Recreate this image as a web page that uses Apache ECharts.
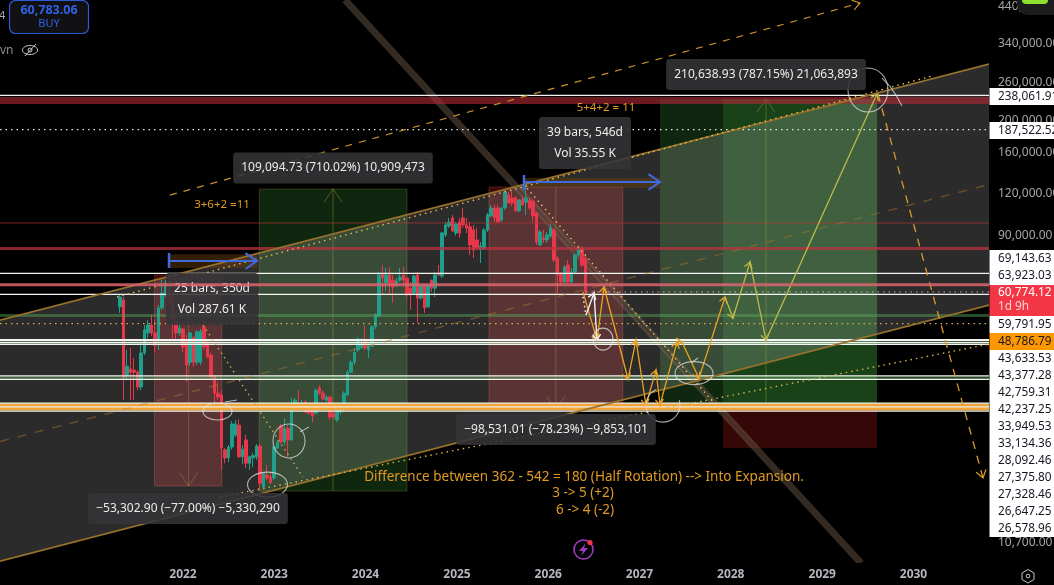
<!DOCTYPE html>
<html><head><meta charset="utf-8">
<style>html,body{margin:0;padding:0;background:#000;overflow:hidden}#c{width:1054px;height:585px}</style>
<script src="https://cdn.jsdelivr.net/npm/echarts@6/dist/echarts.min.js"></script>
</head><body><div id="c"></div>
<script>
// ---------- values (prices in thousands, time in days from 1 Jan 2022) ----------
const yearTicks = [2022,2023,2024,2025,2026,2027,2028,2029,2030];
const priceTicks = [440000,340000,260000,200000,160000,120000,90000,10700];
const firstBarDay = -252, barDays = 14;
const opens = [54.8,57.5,34.1,35.6,35.3,34.8,31.4,39.8,45.7,48.3,45.7,43.5,54.4,59.5,63.8,57.5,49.3,45.7,47.0,43.5,37.3,44.4,37.3,37.3,47.7,42.6,39.2,33.9,30.1,29.7,20.3,19.2,20.7,22.5,24.1,19.35,21.75,18.5,19.2,19.35,20.85,15.7,17.05,16.8,16.7,20.55,24.0,21.45,23.6,21.75,27.7,28.1,27.1,28.3,27.1,26.9,26.2,31.2,30.1,28.7,29.3,26.2,25.0,26.4,26.8,29.7,34.8,37.3,40.6,41.2,43.5,40.6,41.7,47.7,51.4,68.8,64.7,68.4,66.0,63.8,66.0,68.4,66.9,62.4,60.3,68.4,58.3,63.8,54.8,66.0,62.4,69.3,67.9,90.3,96.1,101.6,91.5,98.8,101.6,96.8,95.5,93.5,87.2,81.9,82.5,93.5,103.0,108.9,108.9,100.2,108.9,119.1,116.7,116.7,106.7,115.9,113.5,115.1,114.3,105.2,84.2,88.4,87.2,89.7,93.5,76.9,68.8,65.1,73.3,65.1,69.8,78.6,82.5,76.9];
const closes = [58.7,33.6,36.3,34.8,34.8,31.4,39.8,46.7,48.3,45.7,42.0,54.4,60.3,63.8,56.7,50.0,45.7,47.3,41.5,36.6,45.7,37.3,46.0,46.3,41.5,38.7,33.6,30.1,29.3,20.55,19.2,20.7,24.3,24.3,19.35,20.4,18.5,19.35,19.5,20.85,16.1,17.3,16.7,16.2,20.7,21.45,21.45,23.6,21.75,28.1,28.7,27.1,28.1,26.4,26.2,25.7,30.7,30.1,28.9,29.3,25.5,25.5,27.1,27.7,30.1,34.8,37.3,40.0,43.8,42.0,41.2,41.7,47.7,51.8,68.4,66.9,68.4,64.7,62.9,65.6,67.4,66.0,59.5,59.5,67.9,58.3,63.8,54.4,63.8,62.4,68.4,68.4,91.5,96.8,98.8,92.8,97.5,91.5,96.8,94.8,84.2,81.3,82.5,83.6,93.5,103.8,108.9,101.6,98.8,108.9,121.7,112.7,112.7,106.7,115.1,111.2,116.7,108.9,103.0,86.0,92.2,87.2,90.3,94.8,75.9,68.4,65.1,72.3,65.1,69.8,78.6,82.5,73.3,60.8];
const highs = [59.5,58.7,40.6,41.2,38.4,35.3,42.6,48.3,50.0,51.8,50.0,55.5,66.0,66.0,68.4,61.6,51.8,49.3,47.3,45.1,46.0,44.4,46.7,47.0,48.0,43.5,39.8,34.1,32.5,30.7,20.55,21.0,24.8,25.0,25.1,21.0,22.5,19.5,19.9,21.15,21.15,17.4,18.25,17.4,21.0,21.75,24.3,25.3,24.1,29.1,29.1,30.7,28.7,28.7,28.1,27.7,31.2,31.8,30.7,29.7,29.5,26.8,27.5,28.1,30.5,35.3,37.9,41.2,44.4,44.1,48.3,42.0,48.3,52.5,69.8,73.3,71.8,72.3,68.4,66.9,71.8,72.3,67.4,65.1,68.4,69.8,63.8,64.2,64.2,66.0,69.8,73.3,92.2,98.8,101.6,103.8,98.8,101.6,108.9,101.6,98.8,96.8,94.8,86.0,94.8,105.2,111.2,111.2,111.2,109.7,123.4,121.7,123.4,118.3,115.9,118.3,127.7,116.7,115.9,105.9,93.5,93.5,92.2,97.5,94.8,78.0,69.8,73.3,75.9,71.8,79.1,83.0,83.6,78.0];
const lows = [52.5,28.7,33.0,28.7,28.7,30.7,30.7,39.2,44.1,44.8,39.8,40.6,53.6,58.7,54.4,44.1,43.5,44.8,40.0,32.5,36.3,36.1,36.6,36.6,40.6,38.4,33.4,28.1,28.7,17.65,18.5,18.65,20.3,22.2,19.2,18.4,17.9,17.65,18.0,18.9,15.35,15.5,16.45,16.0,16.45,20.4,21.15,21.0,19.35,21.6,27.3,26.8,26.8,26.2,25.9,24.6,26.0,29.7,28.7,28.3,25.0,25.0,24.6,26.0,26.4,29.5,34.6,36.6,40.0,40.9,40.6,38.4,41.5,47.0,51.1,59.5,61.2,59.5,56.3,62.9,65.1,63.8,58.7,53.6,59.5,49.0,57.5,52.5,54.4,60.8,58.7,67.9,66.9,89.0,94.8,92.2,89.7,88.4,94.8,91.5,78.6,76.9,81.3,74.3,81.3,92.2,102.3,98.8,98.1,98.8,107.4,111.9,110.4,105.9,105.9,110.4,103.8,107.4,98.8,84.2,83.6,85.4,85.4,88.4,74.8,60.3,63.8,64.2,64.7,64.7,68.8,77.5,72.3,59.5];

const channelTop = [[-732,50.0],[3224,295.9]];
const channelBottom = [[-732,9.38],[3224,55.5]];
const channelMid = [[-732,21.5],[3224,128.2]];
const dottedUpper = [[-264,58.7],[2996,272.2]];
const dottedLower = [[148,14.63],[3224,42.3]];
const dottedFall1 = [[80,48.3],[480,16.8]];
const dottedFall2 = [[1376,124.9],[2148,26.8]];
const dashedRise = [[-52,119.1],[2708,452]];
const dashedDrop = [[2780,240.2],[3200,16.7]];
const heavyDiagonal = [[648,461.5],[2712,9.25]];

const rectRed1 = [[-114,68.4],[155,15.8]];
const rectRed2 = [[1224,125.9],[1759,26.8]];
const rectGreen1 = [[305,124.2],[896,15.25]];
const rectGreen2 = [[1908,232],[2776,26.8]];
const rectGreen3 = [[2160,232],[2776,26.8]];
const rectRed3 = [[2160,26.8],[2776,20.55]];
const arrowRed1 = [[22,68.4],[22,15.8]];
const arrowRed2 = [[1491,125.9],[1491,26.8]];
const arrowGreen1 = [[600,15.25],[600,124.2]];
const arrowGreen2 = [[2332,26.8],[2332,232]];

const spanBand1 = [[-56,79.0],[296,71.8]];
const spanBand2 = [[1364,134],[1908,125]];
const spanLine1 = [[-56,75.3],[296,75.3]];
const spanLine2 = [[1364,130.4],[1908,130.4]];
const spanTick1 = [[-56,79.7],[-56,71.8]];
const spanTick2 = [[1364,136.9],[1364,123.4]];

const whitePriceLines = [69143.63,59791.95,43633.53,43377.28,42759.31,42237.25,33949.53,33134.36,238061.91,28092.46,27351,26578.96];
const dottedPriceWhite = [187522.52];
const dottedPriceYellow = [48786.79];
const redThinLines = [98100];
const redThickLines = [82200];
const redWideLines = [229600];
const pinkLines = [63923.03];
const greenBands = [51600,42600,33500];
const orangeBands = [27700,27000];
const lastPriceLine = [[1612,60.774],[3224,60.774]];

const zigOrange = [[1600,60.8],[1656,43.5],[1684,62.9],[1780,33.2],[1812,43.5],[1852,27.7],[1892,35.3],[1908,27.7],[1976,42.9],[1996,42.9],[2064,33.4],[2168,58.7]];
const zigOlive = [[2168,58.7],[2200,50.7],[2268,74.8],[2332,43.5],[2776,240.2]];
const whiteDots = [[1600,58.7],[1612,51.8]];
const whiteZig = [[1612,51.8],[1644,60.3],[1656,43.5]];

const sketchCentres = [[138,26.5],[338,15.95],[424,21.6],[1680,43.8],[2044,34.6],[2740,247]];
const sketchArcCentre = [[1920,27.7]];
const sketchTail1 = [[168,28.3],[216,28.7]];
const sketchTail3 = [[468,23.0],[504,23.8]];
const sketchTail6 = [[2036,37.3],[2060,38.4]];
const sketchTail7 = [[2796,268.4],[2828,253.4],[2852,238.5],[2876,221]];

const boxTexts = ['109,094.73 (710.02%) 10,909,473','39 bars, 546d\nVol 35.55 K','25 bars, 350d\nVol 287.61 K','−53,302.90 (−77.00%) −5,330,290','−98,531.01 (−78.23%) −9,853,101','210,638.93 (787.15%) 21,063,893'];
const boxAnchors = [[600,143.7],[1608,171],[116,57.9],[20,13.5],[1492,23.4],[2332,275.1]];
const noteTexts = ['3+6+2 =11','5+4+2 = 11','Difference between 362 - 542 = 180 (Half Rotation) --> Into Expansion.','3 -> 5 (+2)','6 -> 4 (-2)'];
const noteAnchors = [[156,111.2],[1692,218],[1604,16.8],[1600,15.0],[1608,13.37]];

const stackLabels = ['238,061.91','187,522.52','69,143.63','63,923.03','60,774.12','59,791.95','48,786.79','43,633.53','43,377.28','42,759.31','42,237.25','33,949.53','33,134.36','28,092.46','27,375.80','27,328.46','26,647.25','26,578.96'];

// ---------- helpers ----------
const D0 = new Date(2022,0,1).getTime(), DAY = 864e5;
const xy = p => [p[0], p[1]*1000];
const FONT = '"Noto Sans", sans-serif';
const candles = opens.map((o,i)=>[firstBarDay+i*barDays, o*1000, closes[i]*1000, lows[i]*1000, highs[i]*1000]);

function shape(pts, z, build){
  return {type:'custom',coordinateSystem:'cartesian2d',z,silent:true,clip:true,animation:false,
    data:pts.map(xy),encode:{x:0,y:1},
    renderItem:(params,api)=>{
      if(params.dataIndex!==0) return null;
      return build(pts.map(p=>api.coord(xy(p))));
    }};
}
const box = (pts,z,fill,stroke)=>shape(pts,z,c=>({type:'rect',shape:{x:Math.min(c[0][0],c[1][0]),y:Math.min(c[0][1],c[1][1]),width:Math.abs(c[1][0]-c[0][0]),height:Math.abs(c[1][1]-c[0][1])},style:{fill,stroke:stroke||null,lineWidth:1}}));
const poly = (pts,z,fill)=>shape(pts,z,c=>({type:'polygon',shape:{points:c},style:{fill}}));
function head(a,b,len,spread){
  const ang=Math.atan2(b[1]-a[1],b[0]-a[0]);
  return [[b[0]-len*Math.cos(ang-spread),b[1]-len*Math.sin(ang-spread)],b,[b[0]-len*Math.cos(ang+spread),b[1]-len*Math.sin(ang+spread)]];
}
function line(pts,z,stroke,lineWidth,dash,headLen,eachHead){
  return shape(pts,z,c=>{
    const kids=[{type:'polyline',shape:{points:c},style:{fill:null,stroke,lineWidth,lineDash:dash||null}}];
    if(headLen){
      const from=eachHead?1:c.length-1;
      for(let i=from;i<c.length;i++) kids.push({type:'polyline',shape:{points:head(c[i-1],c[i],headLen,0.6)},style:{fill:null,stroke,lineWidth}});
    }
    return {type:'group',children:kids};
  });
}
const hLine=(v,z,stroke,w,dash)=>line([[-732,v/1000],[3224,v/1000]],z,stroke,w,dash);

const series=[];
// measurement zones under everything
series.push(box(rectRed1,1,'rgba(190,40,40,.30)','rgba(190,70,60,.35)'));
series.push(box(rectRed2,1,'rgba(190,40,40,.30)','rgba(190,70,60,.35)'));
series.push(box(rectGreen1,1,'rgba(50,130,50,.30)','rgba(130,130,40,.35)'));
series.push(box(rectGreen2,1,'rgba(50,130,50,.30)'));
series.push(box(rectGreen3,1,'rgba(50,130,50,.30)'));
series.push(box(rectRed3,1,'rgba(190,30,30,.28)'));
// channel
series.push(poly([channelTop[0],channelTop[1],channelBottom[1],channelBottom[0]],2,'rgba(255,255,255,.17)'));
series.push(line(arrowRed1,2,'rgba(190,150,90,.30)',1.2,null,16));
series.push(line(arrowRed2,2,'rgba(190,150,90,.30)',1.2,null,16));
series.push(line(arrowGreen1,2,'rgba(190,170,70,.30)',1.2,null,16));
series.push(line(arrowGreen2,2,'rgba(190,170,70,.30)',1.2,null,16));
series.push(box(spanBand1,2,'rgba(110,65,10,.45)'));
series.push(box(spanBand2,2,'rgba(110,65,10,.45)'));
series.push(line(heavyDiagonal,2,'rgba(125,105,85,.42)',7));
series.push(line(heavyDiagonal,2,'rgba(50,38,25,.40)',1.6));
// candles
series.push({type:'candlestick',z:3,silent:true,animation:false,barWidth:2.6,data:candles,encode:{x:0,y:[1,2,3,4]},
  itemStyle:{color:'#1f9e8a',color0:'#e8364a',borderColor:'#1f9e8a',borderColor0:'#e8364a',borderWidth:1}});
// price levels
redThinLines.forEach(v=>series.push(hLine(v,4,'rgba(200,50,55,.6)',1)));
redThickLines.forEach(v=>series.push(hLine(v,4,'rgba(190,50,65,.72)',3)));
redWideLines.forEach(v=>series.push(hLine(v,4,'rgba(175,40,55,.62)',7)));
greenBands.forEach(v=>series.push(hLine(v,4,'rgba(90,170,90,.45)',3)));
orangeBands.forEach(v=>series.push(hLine(v,4,'#f2a534',3.5)));
whitePriceLines.forEach(v=>series.push(hLine(v,4,'#f4f4f0',1.3)));
dottedPriceWhite.forEach(v=>series.push(hLine(v,4,'#e8e8e8',1.2,[1.5,4])));
dottedPriceYellow.forEach(v=>series.push(hLine(v,4,'#d9b04c',1.2,[1.5,4])));
series.push(line(lastPriceLine,4,'rgba(240,200,200,.8)',1,[1.5,4]));
// channel borders and trend lines
series.push(line(channelTop,5,'#96702c',1.7));
series.push(line(channelBottom,5,'#96702c',1.7));
series.push(line(channelMid,5,'rgba(170,120,50,.45)',1.5,[9,9]));
series.push(line(dottedUpper,5,'#e2bd55',1.4,[1.5,4]));
series.push(line(dottedLower,5,'#d6b64e',1.4,[1.5,4]));
series.push(line(dottedFall1,5,'#c9a94e',1.4,[1.5,4]));
series.push(line(dottedFall2,5,'#e6c35c',1.4,[1.5,4]));
series.push(line(dashedRise,5,'#c98f2a',1.2,[7,7],9));
series.push(line(dashedDrop,5,'#d99a2a',1.3,[8,7],9));
series.push(line(spanLine1,6,'#3f6ae0',2,null,14));
series.push(line(spanLine2,6,'#3f6ae0',2,null,14));
series.push(line(spanTick1,6,'#3f6ae0',2.5));
series.push(line(spanTick2,6,'#3f6ae0',2.5));
series.push(line(zigOrange,6,'#e8a224',1.3,null,7,true));
series.push(line(zigOlive,6,'#bdb84a',1.3,null,7,true));
series.push(line(whiteDots,6,'#f0f0f0',1.5,[1.5,3]));
series.push(line(whiteZig,6,'#f0f0f0',1.4,null,7,true));
// sketched circles
const sketchRadii=[[14.5,8.5],[20,12.5],[16,17],[10,11],[19,11.5],[20,22]];
const sketchColour='rgba(228,228,228,.72)';
sketchCentres.forEach((c,i)=>series.push(shape([c],6,p=>({type:'ellipse',shape:{cx:p[0][0],cy:p[0][1],rx:sketchRadii[i][0],ry:sketchRadii[i][1]},style:{fill:null,stroke:sketchColour,lineWidth:1.1}}))));
series.push(shape(sketchArcCentre,6,p=>({type:'arc',shape:{cx:p[0][0],cy:p[0][1],r:17,startAngle:-0.3,endAngle:4.3,clockwise:true},style:{fill:null,stroke:sketchColour,lineWidth:1.1}})));
[sketchTail1,sketchTail3,sketchTail6,sketchTail7].forEach(t=>series.push(line(t,6,sketchColour,1.1)));
// text boxes
boxTexts.forEach((t,i)=>series.push(shape([boxAnchors[i]],7,p=>({type:'text',style:{text:t,x:p[0][0],y:p[0][1],align:'center',verticalAlign:'middle',fill:'#ececec',font:'12px '+FONT,lineHeight:21,backgroundColor:'rgba(52,52,56,.88)',padding:[5,8],borderRadius:3}}))));
const noteFontSizes=[11.5,11.5,13.5,13.5,13.5];
noteTexts.forEach((t,i)=>series.push(shape([noteAnchors[i]],7,p=>({type:'text',style:{text:t,x:p[0][0],y:p[0][1],align:'center',verticalAlign:'middle',fill:'#e09a24',font:noteFontSizes[i]+'px '+FONT}}))));
pinkLines.forEach(v=>series.push(hLine(v,8,'rgba(222,100,112,.85)',3)));

// fixed chrome
const stackTops=[88,122,250,267,285,316,333,350,367,384,401,418,435,452,469,486,503,520];
const g=[];
const chip=(y,h,fill)=>g.push({type:'rect',shape:{x:989.5,y,width:66,height:h},style:{fill},z:100});
chip(88,17,'#fff');chip(122,17,'#fff');chip(250,35,'#fff');chip(285,31,'#f23645');chip(316,17,'#fff');chip(333,17,'#ff9800');chip(350,187,'#fff');
stackLabels.forEach((t,i)=>{
  const live=i===4;
  g.push({type:'text',x:998,y:stackTops[i]+(live?8:8.5),z:101,style:{text:t,fill:live?'#fff':'#131722',font:'11.8px '+FONT,verticalAlign:'middle',align:'left'}});
});
g.push({type:'text',x:998,y:307,z:101,style:{text:'1d 9h',fill:'#ffd4d4',font:'11.8px '+FONT,verticalAlign:'middle'}});
g.push({type:'rect',shape:{x:1017,y:-20,width:50,height:35,r:10},style:{fill:'#1c1c1c'},z:102});
g.push({type:'rect',shape:{x:1022,y:-6,width:26,height:10,r:4},style:{fill:'#8ee02e'},z:103});
g.push({type:'rect',shape:{x:9.5,y:0.5,width:79,height:33,r:6},style:{fill:'#111114',stroke:'#2b5bd8',lineWidth:1.2},z:100});
g.push({type:'text',x:49,y:10,z:101,style:{text:'60,783.06',fill:'#2f62e6',font:'bold 12.5px '+FONT,align:'center',verticalAlign:'middle'}});
g.push({type:'text',x:49,y:24,z:101,style:{text:'BUY',fill:'#2f62e6',font:'11px '+FONT,align:'center',verticalAlign:'middle'}});
g.push({type:'text',x:-1,y:16,z:101,style:{text:'4',fill:'#a8a8a8',font:'11px '+FONT,verticalAlign:'middle'}});
g.push({type:'text',x:0,y:51,z:101,style:{text:'vn',fill:'#8a8a8a',font:'12px '+FONT,verticalAlign:'middle'}});
g.push({type:'ellipse',shape:{cx:30,cy:50,rx:7.5,ry:4.5},style:{fill:null,stroke:'#c8c8c8',lineWidth:1},z:101});
g.push({type:'circle',shape:{cx:30,cy:50,r:2},style:{fill:null,stroke:'#c8c8c8',lineWidth:1},z:101});
g.push({type:'line',shape:{x1:25,y1:56,x2:36,y2:44},style:{stroke:'#c8c8c8',lineWidth:1},z:101});
g.push({type:'circle',shape:{cx:583.5,cy:549.5,r:9.5},style:{fill:null,stroke:'#a13bc0',lineWidth:1.6},z:101});
g.push({type:'polygon',shape:{points:[[586,543],[579,551],[583,551],[581,556],[588,548],[584,548]]},style:{fill:'#a13bc0'},z:101});
g.push({type:'circle',shape:{cx:590,cy:542.5,r:2.6},style:{fill:'#f23645'},z:102});
g.push({type:'polygon',shape:{points:[[1028,569.5],[1034,573],[1034,579.5],[1028,583],[1022,579.5],[1022,573]]},style:{fill:null,stroke:'#c8c8c8',lineWidth:1},z:101});
g.push({type:'circle',shape:{cx:1028,cy:576,r:1.8},style:{fill:null,stroke:'#c8c8c8',lineWidth:1},z:101});

const chart=echarts.init(document.getElementById('c'),null,{renderer:'canvas',width:1054,height:585});
chart.setOption({
  backgroundColor:'#000',animation:false,
  grid:{left:0,right:65,top:0,bottom:22,containLabel:false,outerBoundsMode:'none'},
  xAxis:{type:'value',min:-732,max:3224,axisLine:{show:false},axisTick:{show:false},splitLine:{show:false},
    axisLabel:{customValues:yearTicks.map(y=>Math.round((new Date(y,0,1).getTime()-D0)/DAY)),formatter:v=>String(new Date(D0+(v+0.5)*DAY).getFullYear()),color:'#b4b7bf',fontFamily:'"Noto Sans", sans-serif',fontSize:12,fontWeight:'bold',margin:6,hideOverlap:false}},
  yAxis:{type:'log',position:'right',min:9254,max:461500,axisLine:{show:false},axisTick:{show:false},splitLine:{show:false},
    axisLabel:{customValues:priceTicks,formatter:v=>Number(v).toLocaleString('en-US',{minimumFractionDigits:2,maximumFractionDigits:2}),color:'#a6a6a6',fontFamily:'"Noto Sans", sans-serif',fontSize:12,margin:9,hideOverlap:false}},
  series,graphic:{elements:g}
});
</script></body></html>
